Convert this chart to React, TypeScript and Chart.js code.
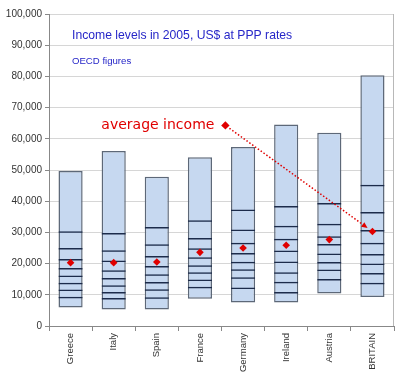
import React, { useEffect, useRef } from 'react';
import { Chart, registerables } from 'chart.js';

Chart.register(...registerables);

const categories = ['Greece', 'Italy', 'Spain', 'France', 'Germany', 'Ireland', 'Austria', 'BRITAIN'];
const minimum = [5900, 5300, 5300, 8700, 7500, 7500, 10400, 9300];
const maximum = [49700, 56100, 47800, 54100, 57400, 64600, 61900, 80400];
const average = [20300, 20300, 20500, 23600, 25000, 25900, 27700, 30300];
const decileLine1 = [9400, 9000, 9200, 12600, 12300, 10900, 15100, 13900];
const decileLine2 = [11700, 10900, 11800, 14900, 15600, 14200, 18100, 17000];
const decileLine3 = [13900, 13100, 14100, 17200, 18200, 17200, 20500, 20000];
const decileLine4 = [16200, 15400, 16600, 19500, 20600, 20700, 23200, 23100];
const decileLine5 = [18600, 17900, 19200, 22000, 23400, 24200, 26300, 26700];
const decileLine6 = [21500, 21000, 22400, 24900, 26700, 28000, 28800, 30800];
const decileLine7 = [25000, 24300, 26200, 28200, 30900, 32100, 32800, 36500];
const decileLine8 = [30400, 29800, 31700, 33900, 37300, 38500, 39400, 45300];
const yTickStep = 10000;
const yMax = 100000;
const titleText = 'Income levels in 2005, US$ at PPP rates';
const subtitleText = 'OECD figures';
const annotationText = 'average income';

const FONT = '"Liberation Sans", Arial, sans-serif';

export default function App() {
  const ref = useRef<HTMLCanvasElement>(null);

  useEffect(() => {
    document.body.style.margin = '0';
    const canvas = ref.current;
    if (!canvas) return;
    const lines = [decileLine1, decileLine2, decileLine3, decileLine4, decileLine5, decileLine6, decileLine7, decileLine8];
    const barOpts = { grouped: false, barPercentage: 0.56, categoryPercentage: 1 };

    const datasets: any[] = [
      {
        type: 'line',
        data: average,
        showLine: false,
        pointStyle: 'rectRot',
        pointRadius: 3.8,
        pointBackgroundColor: '#e00000',
        pointBorderColor: '#e00000',
        pointBorderWidth: 0,
        order: 0,
      },
      ...lines.map((l) => ({
        type: 'bar',
        data: l.map((v, i) => [minimum[i], v]),
        backgroundColor: 'rgba(0,0,0,0)',
        borderColor: '#1c2b4a',
        borderWidth: { top: 1.5, left: 0, right: 0, bottom: 0 },
        borderSkipped: false,
        order: 1,
        ...barOpts,
      })),
      {
        type: 'bar',
        data: maximum.map((v, i) => [minimum[i], v]),
        backgroundColor: '#c6d8f0',
        borderColor: '#5d6878',
        borderWidth: 1.5,
        borderSkipped: false,
        order: 2,
        ...barOpts,
      },
    ];

    const overlay = {
      id: 'overlay',
      afterDatasetsDraw(chart: any) {
        const { ctx, chartArea, scales } = chart;
        const x = scales.x;
        const y = scales.y;
        ctx.save();
        // right frame line
        ctx.strokeStyle = '#b8b8b8';
        ctx.lineWidth = 1;
        ctx.beginPath();
        ctx.moveTo(chartArea.right - 0.5, chartArea.top);
        ctx.lineTo(chartArea.right - 0.5, chartArea.bottom);
        ctx.stroke();

        // titles
        ctx.fillStyle = '#2626c8';
        ctx.textBaseline = 'alphabetic';
        ctx.textAlign = 'left';
        ctx.font = '12.2px ' + FONT;
        ctx.fillText(titleText, chartArea.left + 23, 38.5);
        ctx.font = '9.6px ' + FONT;
        ctx.fillText(subtitleText, chartArea.left + 23, 63.5);

        // annotation
        const ax = x.getPixelForValue(3.59);
        const ay = y.getPixelForValue(64300);
        const bx = x.getPixelForValue(7);
        const by = y.getPixelForValue(average[7]);
        ctx.fillStyle = '#e00000';
        ctx.font = '14px "DejaVu Sans", sans-serif';
        ctx.textAlign = 'right';
        ctx.fillText(annotationText, ax - 11, ay + 3.5);
        // annotation diamond
        const r = 4.2;
        ctx.beginPath();
        ctx.moveTo(ax, ay - r);
        ctx.lineTo(ax + r, ay);
        ctx.lineTo(ax, ay + r);
        ctx.lineTo(ax - r, ay);
        ctx.closePath();
        ctx.fill();
        // dotted arrow
        const dx = bx - ax;
        const dy = by - ay;
        const len = Math.sqrt(dx * dx + dy * dy);
        const ux = dx / len;
        const uy = dy / len;
        const sx = ax + ux * 5;
        const sy = ay + uy * 5;
        const ex = bx - ux * 6;
        const ey = by - uy * 6;
        ctx.strokeStyle = '#e00000';
        ctx.lineWidth = 1.5;
        ctx.setLineDash([1.5, 2]);
        ctx.beginPath();
        ctx.moveTo(sx, sy);
        ctx.lineTo(ex - ux * 4, ey - uy * 4);
        ctx.stroke();
        ctx.setLineDash([]);
        const hl = 6;
        const hw = 2.8;
        ctx.beginPath();
        ctx.moveTo(ex, ey);
        ctx.lineTo(ex - ux * hl - uy * hw, ey - uy * hl + ux * hw);
        ctx.lineTo(ex - ux * hl + uy * hw, ey - uy * hl - ux * hw);
        ctx.closePath();
        ctx.fill();
        ctx.restore();
      },
    };

    const chart = new Chart(canvas, {
      type: 'bar',
      data: { labels: categories, datasets },
      options: {
        responsive: false,
        animation: false,
        devicePixelRatio: 1,
        events: [],
        layout: { padding: { top: 14, right: 6, left: 0, bottom: 0 } },
        plugins: { legend: { display: false }, tooltip: { enabled: false }, title: { display: false } },
        scales: {
          x: {
            offset: true,
            afterFit: (s: any) => {
              s.height = 54;
            },
            grid: { drawOnChartArea: false, offset: true, tickLength: 5, color: '#888888' },
            border: { color: '#888888', width: 1 },
            ticks: {
              maxRotation: 90,
              minRotation: 90,
              padding: 2,
              color: '#333333',
              font: { family: FONT, size: 9.5 },
            },
          },
          y: {
            min: 0,
            max: yMax,
            afterFit: (s: any) => {
              s.width = 49;
            },
            grid: { color: '#d6d6d6', tickLength: 4, tickColor: '#888888' },
            border: { color: '#888888', width: 1 },
            ticks: {
              stepSize: yTickStep,
              padding: 3,
              color: '#333333',
              font: { family: FONT, size: 10 },
              callback: (v: any) => Number(v).toLocaleString('en-US'),
            },
          },
        },
      },
      plugins: [overlay],
    } as any);

    return () => chart.destroy();
  }, []);

  return (
    <div style={{ position: 'absolute', left: 0, top: 0, width: 400, height: 380, background: '#ffffff' }}>
      <canvas ref={ref} width={400} height={380} />
    </div>
  );
}
